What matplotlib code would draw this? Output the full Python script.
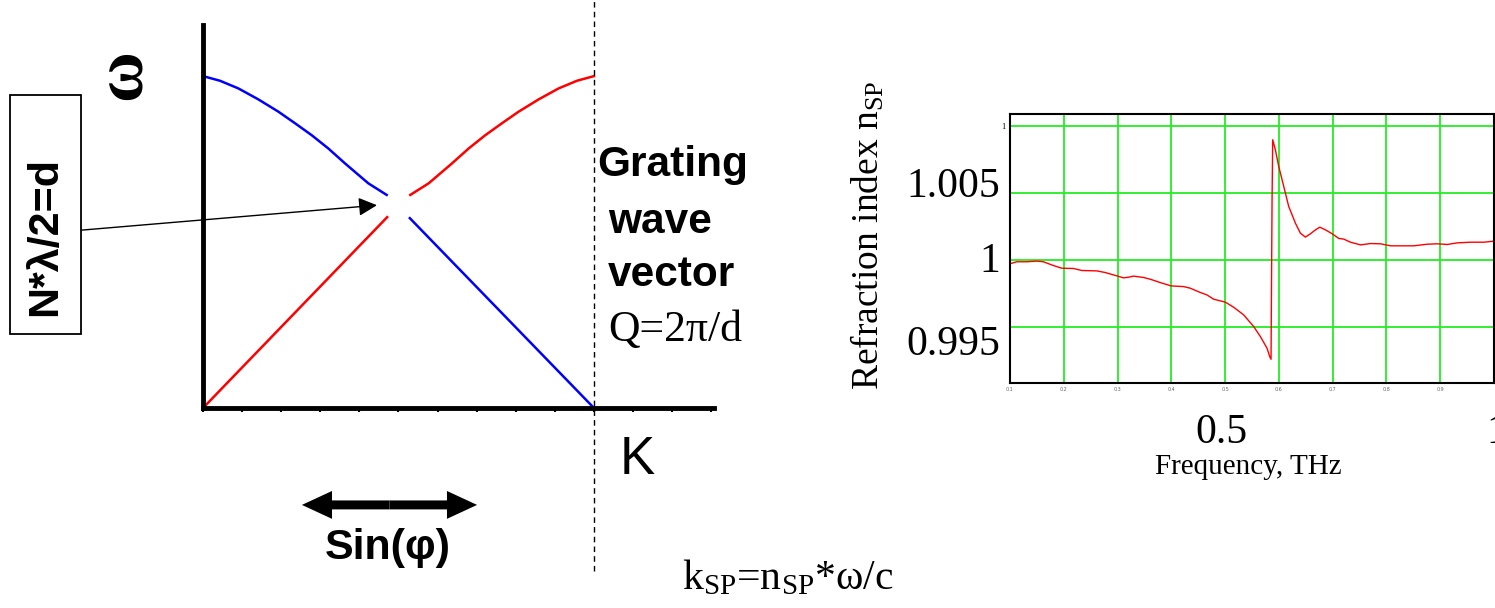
import numpy as np
import matplotlib
matplotlib.use("Agg")
import matplotlib.pyplot as plt
from matplotlib.patches import Rectangle

plt.rcParams.update({'mathtext.fontset': 'custom'})
plt.rcParams.update({'mathtext.rm': 'Liberation Serif'})
plt.rcParams.update({'mathtext.it': 'Liberation Serif:italic'})

# --- dispersion sketch (K in units of Q, omega normalised) ---
blue_up_k = [0.0, 0.0435, 0.0903, 0.1414, 0.1926, 0.2353, 0.2780, 0.3205, 0.3632, 0.4228, 0.4698]
blue_up_w = [1.0, 0.986, 0.963, 0.930, 0.893, 0.858, 0.822, 0.782, 0.737, 0.677, 0.642]
blue_lo_k = [0.529, 1.0]
blue_lo_w = [0.572, 0.0]
red_lo_k = [0.0, 0.471]
red_lo_w = [0.0, 0.575]
red_up_k = [0.5302, 0.5772, 0.6368, 0.6795, 0.7220, 0.7647, 0.8074, 0.8586, 0.9097, 0.9565, 1.0]
red_up_w = [0.642, 0.677, 0.737, 0.782, 0.822, 0.858, 0.893, 0.930, 0.963, 0.986, 1.0]
k_ticks = np.arange(0, 1.31, 0.1)

# --- measured refraction index ---
freq = [0.1000, 0.1124, 0.1310, 0.1497, 0.1621, 0.1807, 0.1962, 0.2179, 0.2335, 0.2614,
        0.2769, 0.2986, 0.3111, 0.3204, 0.3297, 0.3483, 0.3607, 0.3793, 0.3998, 0.4228,
        0.4352, 0.4538, 0.4662, 0.4787, 0.5004, 0.5159, 0.5345, 0.5531, 0.5656, 0.5780,
        0.5829, 0.5854, 0.5860, 0.5873, 0.5885, 0.5935, 0.5997, 0.6090, 0.6183, 0.6307,
        0.6400, 0.6493, 0.6587, 0.6680, 0.6760, 0.6866, 0.6990, 0.7114, 0.7207, 0.7331,
        0.7518, 0.7704, 0.7890, 0.8076, 0.8325, 0.8511, 0.8759, 0.8945, 0.9132, 0.9318,
        0.9566, 0.9814, 1.0000]
n_sp = [0.99973, 0.99988, 0.99988, 0.99993, 0.99988, 0.99960, 0.99940, 0.99938, 0.99923, 0.99920,
        0.99908, 0.99883, 0.99868, 0.99873, 0.99881, 0.99871, 0.99858, 0.99833, 0.99808, 0.99803,
        0.99791, 0.99759, 0.99741, 0.99709, 0.99687, 0.99649, 0.99592, 0.99505, 0.99430, 0.99343,
        0.99281, 0.99261, 0.99654, 1.00450, 1.00898, 1.00823, 1.00699, 1.00550, 1.00400, 1.00276,
        1.00201, 1.00172, 1.00197, 1.00226, 1.00246, 1.00226, 1.00197, 1.00162, 1.00157, 1.00134,
        1.00114, 1.00124, 1.00122, 1.00107, 1.00107, 1.00107, 1.00119, 1.00122, 1.00117, 1.00129,
        1.00134, 1.00134, 1.00142]
freq_grid = [0.2, 0.3, 0.4, 0.5, 0.6, 0.7, 0.8, 0.9]
freq_small = ['0.1', '0.2', '0.3', '0.4', '0.5', '0.6', '0.7', '0.8', '0.9']
n_grid = [0.995, 1.0, 1.005, 1.01]

W, H = 1495, 608
fig = plt.figure(figsize=(W / 100., H / 100.), dpi=100)

# left sketch axes, placed so that K=Q sits on the dashed line
ax = fig.add_axes([203. / W, 1 - 408. / H, 511. / W, 383. / H])
ax.set_xlim(0, 1.307)
ax.set_ylim(0, 1.154)
ax.patch.set_alpha(0)
for s in ['top', 'right']:
    ax.spines[s].set_visible(False)
for s in ['left', 'bottom']:
    ax.spines[s].set_linewidth(3.5)
ax.set_xticks(k_ticks)
ax.set_xticklabels([])
ax.set_yticks([])
ax.tick_params(axis='x', direction='out', length=3, width=1.5)

ax.plot(blue_up_k, blue_up_w, color='blue', lw=1.8, clip_on=False)
ax.plot(blue_lo_k, blue_lo_w, color='blue', lw=1.8, clip_on=False)
ax.plot(red_lo_k, red_lo_w, color='red', lw=1.8, clip_on=False)
ax.plot(red_up_k, red_up_w, color='red', lw=1.8, clip_on=False)

# dashed line at K = Q
ax.plot([1.0, 1.0], [-0.49, 1.23], color='k', lw=1, ls=(0, (4, 3)), clip_on=False)

ax.text(-0.205, 1.006, 'ω', rotation=90, fontsize=50, family='Liberation Serif',
        fontweight='bold', ha='center', va='center')
ax.add_patch(Rectangle((-0.494, 0.223), 0.182, 0.72, fill=False, lw=1.3, ec='k', clip_on=False))
ax.text(-0.404, 0.518, 'N*λ/2=d', rotation=90, fontsize=31, family='Liberation Sans',
        fontweight='bold', ha='center', va='center')
ax.annotate('', xy=(0.445, 0.611), xytext=(-0.31, 0.536), annotation_clip=False,
            arrowprops=dict(arrowstyle='-|>', lw=1, color='k', mutation_scale=28, shrinkA=0, shrinkB=0))

ax.text(1.11, -0.157, 'K', fontsize=38, family='Liberation Sans', ha='center', va='center')
# double arrow drawn as two filled arrows from the middle
for dx in [-0.224, 0.224]:
    ax.arrow(0.477, -0.292, dx, 0, width=0.027, head_width=0.084, head_length=0.077,
             length_includes_head=True, color='k', lw=0, clip_on=False)
ax.text(0.473, -0.422, 'Sin(φ)', fontsize=31, family='Liberation Sans', fontweight='bold',
        ha='center', va='center')

ax.text(1.008, 0.732, 'Grating', fontsize=30.5, family='Liberation Sans', fontweight='bold',
        ha='left', va='center')
ax.text(1.036, 0.560, 'wave', fontsize=30.5, family='Liberation Sans', fontweight='bold',
        ha='left', va='center')
ax.text(1.036, 0.401, 'vector', fontsize=30.5, family='Liberation Sans', fontweight='bold',
        ha='left', va='center')
ax.text(1.036, 0.235, 'Q=2π/d', fontsize=31.5, family='Liberation Serif', ha='left', va='center')

fig.text(788. / W, 1 - 578. / H, r'k$_{\mathrm{SP}}$=n$_{\mathrm{SP}}$*ω/c', fontsize=30,
         family='Liberation Serif', ha='center', va='center')

# right measured plot
ax2 = fig.add_axes([1010. / W, 1 - 383. / H, 484. / W, 269. / H])
ax2.plot(freq, n_sp, color='red', lw=1)
ax2.set_xlim(0.1, 1.0)
ax2.set_ylim(0.99084, 1.0109)
for xg in freq_grid:
    ax2.axvline(xg, color='#22ee22', lw=1.3, zorder=0)
for yg in n_grid:
    ax2.axhline(yg, color='#22ee22', lw=1.3, zorder=0)
for s in ax2.spines.values():
    s.set_linewidth(1.5)
ax2.set_xticks([0.1] + freq_grid)
ax2.set_xticklabels(freq_small, fontsize=3.5, color='0.4')
ax2.set_yticks([1.01])
ax2.set_yticklabels(['1'], fontsize=6, family='Liberation Serif')
ax2.tick_params(length=0, pad=3)

tf = ax2.get_yaxis_transform()
ax2.text(-0.02, 1.0055, '1.005', transform=tf, fontsize=30, family='Liberation Serif',
         ha='right', va='center')
ax2.text(-0.02, 0.99985, '1', transform=tf, fontsize=30, family='Liberation Serif',
         ha='right', va='center')
ax2.text(-0.02, 0.99370, '0.995', transform=tf, fontsize=30, family='Liberation Serif',
         ha='right', va='center')
tx = ax2.get_xaxis_transform()
ax2.text(0.494, -0.185, '0.5', transform=tx, fontsize=30, family='Liberation Serif',
         ha='center', va='center')
ax2.text(0.985, -0.185, '1', transform=tx, fontsize=30, family='Liberation Serif',
         ha='left', va='center')

fig.text(868. / W, 1 - 235. / H, r'Refraction index n$_{\mathrm{SP}}$', rotation=90, fontsize=27,
         family='Liberation Serif', ha='center', va='center')
fig.text(1248. / W, 1 - 467. / H, 'Frequency, THz', fontsize=21, family='Liberation Serif',
         ha='center', va='center')

fig.savefig('out.png', dpi=100)
plt.close(fig)
